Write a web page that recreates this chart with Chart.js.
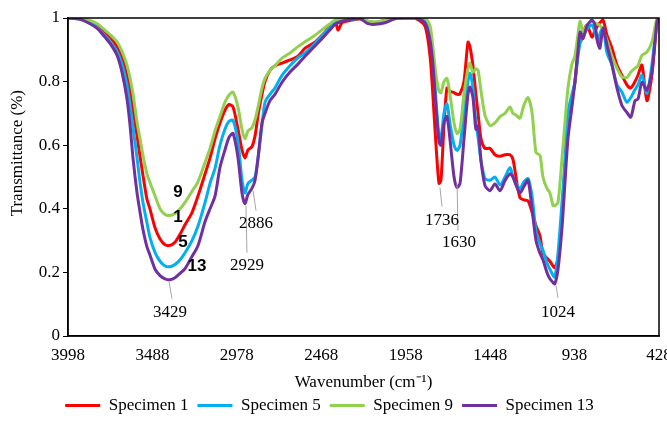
<!DOCTYPE html>
<html>
<head>
<meta charset="utf-8">
<title>FTIR Transmittance Spectra</title>
<script src="https://cdn.jsdelivr.net/npm/chart.js"></script>
<style>
  html, body { margin: 0; padding: 0; background: #fff; }
</style>
</head>
<body>

<canvas id="ftir_chart" width="667" height="437"></canvas>

<script>
// wavenumber (cm-1)
const wavenumbers = [
    3998, 3926, 3865, 3817, 3775, 3744, 3702, 3672, 3642, 3623,
    3605, 3581, 3563, 3545, 3521, 3503, 3472, 3442, 3412, 3382,
    3352, 3321, 3291, 3249, 3213, 3170, 3140, 3110, 3080, 3050,
    3025, 3001, 2971, 2947, 2929, 2911, 2887, 2868, 2850, 2826,
    2808, 2778, 2748, 2705, 2657, 2609, 2566, 2506, 2446, 2385,
    2367, 2343, 2295, 2234, 2186, 2144, 2083, 2023, 1962, 1902,
    1842, 1811, 1793, 1775, 1757, 1745, 1727, 1709, 1691, 1666,
    1648, 1630, 1606, 1582, 1570, 1552, 1534, 1521, 1503, 1479,
    1449, 1419, 1388, 1358, 1328, 1310, 1292, 1268, 1244, 1219,
    1195, 1171, 1147, 1129, 1105, 1087, 1068, 1057, 1038, 1014,
    996, 978, 954, 936, 917, 905, 887, 863, 833, 815,
    797, 785, 766, 742, 712, 682, 652, 622, 598, 573,
    555, 531, 501, 471, 440, 428
];

const specimen1 = [
    1, 0.998, 0.99, 0.975, 0.955, 0.94, 0.91, 0.875, 0.82, 0.77,
    0.71, 0.63, 0.565, 0.505, 0.43, 0.40, 0.34, 0.305, 0.287, 0.285,
    0.295, 0.32, 0.35, 0.388, 0.44, 0.51, 0.56, 0.62, 0.67, 0.71,
    0.728, 0.72, 0.65, 0.585, 0.56, 0.585, 0.595, 0.63, 0.694, 0.76,
    0.80, 0.835, 0.85, 0.858, 0.868, 0.88, 0.905, 0.924, 0.955, 0.99,
    0.962, 0.985, 0.992, 0.997, 0.99, 0.985, 0.993, 0.998, 1, 1,
    0.975, 0.88, 0.75, 0.60, 0.48, 0.49, 0.66, 0.78, 0.77, 0.765,
    0.76, 0.762, 0.80, 0.924, 0.91, 0.85, 0.76, 0.70, 0.62, 0.59,
    0.59, 0.57, 0.565, 0.57, 0.57, 0.555, 0.50, 0.435, 0.428, 0.425,
    0.39, 0.347, 0.315, 0.26, 0.245, 0.235, 0.22, 0.215, 0.245, 0.378,
    0.536, 0.694, 0.747, 0.798, 0.90, 0.946, 0.956, 0.978, 0.94, 0.96,
    0.978, 0.985, 0.994, 0.946, 0.905, 0.852, 0.82, 0.79, 0.78, 0.80,
    0.82, 0.852, 0.74, 0.82, 0.99, 1
];

const specimen5 = [
    1, 0.997, 0.985, 0.968, 0.945, 0.925, 0.895, 0.855, 0.79, 0.725,
    0.655, 0.56, 0.483, 0.42, 0.356, 0.31, 0.262, 0.235, 0.22, 0.218,
    0.225, 0.24, 0.262, 0.30, 0.345, 0.42, 0.48, 0.527, 0.60, 0.65,
    0.675, 0.678, 0.61, 0.49, 0.45, 0.48, 0.49, 0.50, 0.56, 0.665,
    0.735, 0.76, 0.78, 0.82, 0.85, 0.875, 0.89, 0.92, 0.955, 0.985,
    0.99, 0.993, 0.995, 0.998, 0.985, 0.982, 0.99, 0.998, 1, 1,
    0.99, 0.94, 0.87, 0.74, 0.63, 0.62, 0.70, 0.73, 0.67, 0.60,
    0.583, 0.60, 0.70, 0.80, 0.826, 0.78, 0.67, 0.625, 0.55, 0.495,
    0.49, 0.50, 0.475, 0.50, 0.53, 0.50, 0.48, 0.464, 0.485, 0.495,
    0.44, 0.33, 0.29, 0.27, 0.23, 0.21, 0.19, 0.185, 0.26, 0.42,
    0.55, 0.703, 0.76, 0.798, 0.88, 0.92, 0.94, 0.965, 0.978, 0.955,
    0.924, 0.95, 0.97, 0.89, 0.852, 0.79, 0.767, 0.735, 0.75, 0.775,
    0.79, 0.82, 0.763, 0.852, 0.99, 1
];

const specimen9 = [
    1, 0.999, 0.992, 0.98, 0.962, 0.948, 0.925, 0.895, 0.852, 0.81,
    0.76, 0.672, 0.62, 0.568, 0.51, 0.483, 0.44, 0.40, 0.382, 0.379,
    0.385, 0.40, 0.42, 0.455, 0.485, 0.546, 0.59, 0.645, 0.69, 0.735,
    0.758, 0.767, 0.72, 0.65, 0.62, 0.645, 0.655, 0.68, 0.72, 0.78,
    0.81, 0.835, 0.85, 0.874, 0.89, 0.91, 0.925, 0.946, 0.97, 0.994,
    0.996, 0.997, 0.998, 0.998, 0.99, 0.988, 0.992, 0.998, 1, 1,
    1, 0.975, 0.905, 0.82, 0.77, 0.765, 0.80, 0.81, 0.76, 0.67,
    0.637, 0.65, 0.76, 0.84, 0.858, 0.83, 0.84, 0.836, 0.77, 0.694,
    0.662, 0.67, 0.69, 0.70, 0.72, 0.70, 0.695, 0.685, 0.726, 0.75,
    0.703, 0.577, 0.568, 0.50, 0.464, 0.45, 0.41, 0.41, 0.42, 0.558,
    0.672, 0.78, 0.855, 0.88, 0.95, 0.99, 0.957, 0.978, 0.99, 0.985,
    0.98, 0.978, 0.96, 0.93, 0.88, 0.842, 0.815, 0.813, 0.83, 0.842,
    0.85, 0.883, 0.893, 0.924, 1.0, 1
];

const specimen13 = [
    1, 0.996, 0.982, 0.965, 0.94, 0.92, 0.883, 0.83, 0.747, 0.662,
    0.558, 0.45, 0.39, 0.335, 0.28, 0.255, 0.21, 0.19, 0.18, 0.177,
    0.183, 0.197, 0.212, 0.25, 0.284, 0.36, 0.40, 0.44, 0.53, 0.585,
    0.625, 0.637, 0.56, 0.45, 0.416, 0.445, 0.464, 0.49, 0.56, 0.67,
    0.70, 0.74, 0.76, 0.798, 0.83, 0.855, 0.88, 0.912, 0.945, 0.98,
    0.985, 0.99, 0.995, 0.998, 0.982, 0.98, 0.985, 0.998, 1, 1,
    0.985, 0.93, 0.85, 0.72, 0.61, 0.60, 0.67, 0.69, 0.62, 0.50,
    0.467, 0.48, 0.62, 0.76, 0.783, 0.75, 0.65, 0.66, 0.55, 0.473,
    0.457, 0.478, 0.457, 0.489, 0.51, 0.50, 0.475, 0.45, 0.47, 0.49,
    0.40, 0.30, 0.26, 0.24, 0.20, 0.18, 0.168, 0.164, 0.21, 0.34,
    0.483, 0.62, 0.72, 0.798, 0.90, 0.956, 0.935, 0.975, 0.994, 0.978,
    0.92, 0.905, 0.968, 0.915, 0.852, 0.78, 0.725, 0.703, 0.688, 0.74,
    0.745, 0.798, 0.773, 0.83, 0.99, 1
];

const seriesNames = ['Specimen 1', 'Specimen 5', 'Specimen 9', 'Specimen 13'];
const seriesColors = ['#FF0000', '#00B0F0', '#92D050', '#7030A0'];

// peak labels: text, where the text sits, and the leader line (all in data units)
const peakNotes = [
    { text: '3429', at: [3382, 0.073], from: [3388, 0.173], to: [3370, 0.117] },
    { text: '2929', at: [2917, 0.221], from: [2923, 0.410], to: [2917, 0.262] },
    { text: '2886', at: [2862, 0.353], from: [2880, 0.457], to: [2862, 0.394] },
    { text: '1736', at: [1739, 0.363], from: [1751, 0.467], to: [1739, 0.407] },
    { text: '1630', at: [1636, 0.293], from: [1648, 0.480], to: [1642, 0.331] },
    { text: '1024', at: [1038, 0.073], from: [1050, 0.158], to: [1038, 0.120] }
];

// specimen numbers written next to the 3400 band
const curveTags = [
    ['9', 3334, 0.451],
    ['1', 3334, 0.372],
    ['5', 3303, 0.295],
    ['13', 3219, 0.218]
];

const serif = '"Liberation Serif", "Times New Roman", serif';

const notesPlugin = {
    id: 'notes',
    afterDatasetsDraw(chart) {
        const ctx = chart.ctx;
        const xs = chart.scales.x, ys = chart.scales.y;
        const px = p => [xs.getPixelForValue(p[0]), ys.getPixelForValue(p[1])];
        ctx.save();
        ctx.strokeStyle = '#a6a6a6';
        ctx.lineWidth = 1;
        peakNotes.forEach(n => {
            const a = px(n.from), b = px(n.to);
            ctx.beginPath();
            ctx.moveTo(a[0], a[1]);
            ctx.lineTo(b[0], b[1]);
            ctx.stroke();
        });
        ctx.fillStyle = '#000';
        ctx.textAlign = 'center';
        ctx.textBaseline = 'middle';
        ctx.font = '17px ' + serif;
        peakNotes.forEach(n => {
            const p = px(n.at);
            ctx.fillText(n.text, p[0], p[1]);
        });
        ctx.font = 'bold 17px "Liberation Sans", Arial, sans-serif';
        curveTags.forEach(t => {
            ctx.fillText(t[0], xs.getPixelForValue(t[1]), ys.getPixelForValue(t[2]));
        });

        // frame round the plot
        const area = chart.chartArea;
        ctx.strokeStyle = '#000';
        ctx.lineWidth = 1.5;
        ctx.strokeRect(area.left, area.top, area.right - area.left, area.bottom - area.top);

        // y title, a bit above the middle as in the original
        ctx.translate(ys.left + 18, ys.getPixelForValue(0.575));
        ctx.rotate(-Math.PI / 2);
        ctx.font = '17px ' + serif;
        ctx.fillText('Transmittance (%)', 0, 0);
        ctx.restore();
    }
};

const datasets = seriesNames.map((name, i) => ({
    label: name,
    data: wavenumbers.map((w, k) => ({ x: w, y: [specimen1, specimen5, specimen9, specimen13][i][k] })),
    borderColor: seriesColors[i],
    backgroundColor: seriesColors[i],
    borderWidth: 3,
    pointRadius: 0,
    tension: 0.25,
    order: 4 - i
}));

new Chart(document.getElementById('ftir_chart').getContext('2d'), {
    type: 'line',
    data: { datasets: datasets },
    options: {
        responsive: false,
        animation: false,
        layout: { padding: { left: 0, top: 18, right: 8, bottom: 13 } },
        scales: {
            x: {
                type: 'linear',
                reverse: true,
                min: 428,
                max: 3998,
                grid: { display: false, tickLength: 0 },
                border: { color: '#000', width: 1.5 },
                ticks: {
                    stepSize: 510,
                    autoSkip: false,
                    maxRotation: 0,
                    padding: 9,
                    color: '#000',
                    font: { family: serif, size: 17 },
                    callback: v => String(Math.round(v))
                },
                title: {
                    display: true,
                    text: 'Wavenumber (cm\u207B\u00B9)',
                    color: '#000',
                    font: { family: serif, size: 17 },
                    padding: { top: 0, bottom: -5 }
                },
                afterFit: s => { s.height = 52; s.paddingLeft = 0; s.paddingRight = 0; }
            },
            y: {
                min: 0,
                max: 1,
                grid: { display: true, drawOnChartArea: false, drawTicks: true, tickLength: 5, color: '#000' },
                border: { color: '#000', width: 1.5 },
                ticks: {
                    stepSize: 0.2,
                    padding: 3,
                    color: '#000',
                    font: { family: serif, size: 17 },
                    callback: v => String(+v.toFixed(1))
                },
                afterFit: s => { s.width = 68; }
            }
        },
        plugins: {
            legend: {
                display: true,
                position: 'bottom',
                labels: {
                    usePointStyle: true,
                    pointStyle: 'line',
                    pointStyleWidth: 35,
                    padding: 9,
                    color: '#000',
                    font: { family: serif, size: 17 },
                    sort: (a, b) => a.datasetIndex - b.datasetIndex
                }
            },
            tooltip: { enabled: false }
        }
    },
    plugins: [notesPlugin]
});
</script>

</body>
</html>
